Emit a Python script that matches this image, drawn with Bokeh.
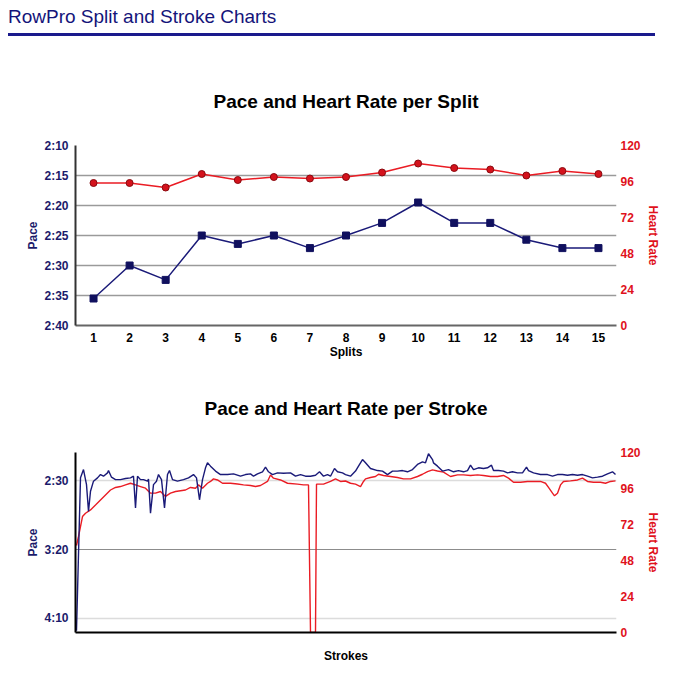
from bokeh.plotting import figure
from bokeh.models import Range1d, LinearAxis, FixedTicker, Div, Grid, Title
from bokeh.layouts import column
from bokeh.embed import file_html
from bokeh.resources import INLINE

# ---------------- data ----------------
split_nums = list(range(1, 16))
split_pace = [155.5, 150.0, 152.4, 145.0, 146.4, 145.0, 147.1, 145.0, 142.9, 139.5,
              142.9, 142.9, 145.7, 147.1, 147.1]          # seconds per 500m
split_hr = [95, 95, 92, 101, 97, 99, 98, 99, 102, 108, 105, 104, 100, 103, 101]

split_pace_ticks = [130, 135, 140, 145, 150, 155, 160]
split_pace_labels = ["2:10", "2:15", "2:20", "2:25", "2:30", "2:35", "2:40"]
hr_ticks = [0, 24, 48, 72, 96, 120]

stroke_pace_x = [1, 5, 8, 11, 13, 15, 18, 22, 25, 28, 32, 33, 36, 40, 45, 50, 55, 58, 60, 62,
                 65, 68, 72, 73, 75, 78, 81, 83, 86, 89, 92, 94, 97, 102, 108, 113, 118, 121,
                 124, 127, 130, 132, 135, 140, 145, 152, 158, 165, 170, 175, 178, 182, 187,
                 190, 193, 197, 202, 208, 215, 220, 225, 230, 235, 240, 244, 248, 252, 255,
                 259, 262, 267, 270, 275, 280, 283, 287, 290, 295, 302, 307, 312, 317, 322,
                 327, 332, 337, 342, 347, 350, 353, 357, 358, 362, 367, 373, 378, 383, 388,
                 392, 395, 398, 403, 408, 412, 416, 418, 423, 428, 432, 437, 442, 447, 451,
                 453, 458, 465, 472, 477, 482, 487, 492, 497, 502, 507, 512, 517, 522, 527,
                 532, 537, 540]
stroke_pace = [259, 148.0, 142.0, 152.9, 172.3, 157.7, 150.4, 148.0, 145.6, 146.8, 144.4, 142.7,
               147.5, 149.3, 149.3, 148.5, 148.0, 146.8, 169.9, 146.8, 149.3, 149.3, 150.4,
               148.8, 173.6, 152.9, 150.4, 145.6, 149.3, 169.9, 145.6, 142.7, 149.3, 150.4,
               149.3, 148.0, 145.6, 148.0, 163.9, 149.3, 140.7, 137.1, 139.5, 143.1, 145.6,
               145.6, 145.1, 146.8, 145.6, 145.1, 146.8, 145.1, 143.6, 140.2, 143.6, 145.6,
               144.4, 144.7, 144.4, 146.8, 145.6, 146.8, 146.8, 146.1, 143.6, 146.8, 145.6,
               146.8, 141.2, 143.6, 144.4, 145.6, 146.8, 143.1, 139.5, 134.7, 137.1, 141.2,
               142.7, 143.1, 145.6, 143.1, 143.1, 142.7, 143.6, 142.0, 138.3, 136.4, 137.1,
               130.5, 134.7, 137.1, 139.5, 143.1, 142.0, 143.6, 142.7, 143.6, 142.7, 138.8,
               142.0, 140.7, 141.2, 140.7, 138.8, 142.7, 142.7, 143.1, 144.4, 143.6, 144.4,
               144.4, 140.2, 142.7, 144.4, 145.6, 145.6, 146.8, 145.6, 145.6, 146.1, 145.6,
               146.1, 145.6, 146.8, 148.0, 147.5, 146.8, 145.1, 143.6, 145.6]

stroke_hr_x = [1, 3, 7, 10, 15, 20, 25, 30, 35, 40, 45, 50, 55, 60, 65, 70, 75, 80, 85, 90,
               95, 100, 105, 110, 115, 120, 123, 127, 132, 135, 138, 142, 147, 155, 162, 168,
               175, 180, 185, 192, 195, 198, 205, 212, 222, 228, 233, 235, 240, 241, 248, 255,
               260, 265, 270, 275, 280, 285, 288, 290, 295, 300, 303, 308, 315, 322, 328, 335,
               342, 347, 352, 357, 362, 368, 375, 382, 388, 395, 402, 408, 415, 422, 428, 433,
               438, 445, 452, 458, 465, 470, 473, 477, 479, 482, 485, 488, 495, 502, 507, 512,
               518, 525, 530, 535, 540]
stroke_hr = [58, 64, 77.3, 79.5, 81.7, 85, 88.4, 91.7, 95, 96.7, 97.3, 98.4, 99.5, 98.4, 97.3,
             96.2, 92.9, 92.9, 94, 90.7, 92.9, 94, 94.5, 95, 96.7, 96.2, 98.4, 96.2, 99.5, 100.7,
             102.4, 101.7, 99.5, 99.5, 99, 98.4, 98, 97.3, 98, 100.7, 105, 102.9, 101.7, 99.5,
             98.9, 98.4, 98.4, 0, 0, 98.9, 98.9, 100.7, 102.4, 100.7, 101, 99.5, 98.9, 97.3,
             100.7, 102.4, 103.3, 104, 105.5, 104.7, 104, 103.3, 102.4, 102.4, 104, 105.5,
             107.3, 108.4, 107.7, 106.9, 104, 105.1, 105.1, 104.7, 105.1, 104.7, 104, 104,
             104.7, 102.9, 100.2, 100.2, 100.7, 100.7, 100.7, 99.5, 96.7, 92.9, 91.1, 92.9,
             98.4, 100.7, 101.1, 101.7, 102.9, 100.7, 100.2, 100.2, 99.5, 100.7, 101.1]

stroke_pace_ticks = [150, 200, 250]
stroke_pace_labels = ["2:30", "3:20", "4:10"]

# ---------------- styles ----------------
FONT = "Liberation Sans"
NAVY_TXT = "#1b1b6b"
RED_TXT = "#e0121c"
BLUE_LINE = "#1a1a78"
RED_LINE = "#ea1c24"


def style_common(p, title_text):
    p.outline_line_color = None
    p.xgrid.grid_line_color = None
    # spacer first (closest to frame), then the real title
    p.add_layout(Title(text=" ", text_font_size="16px"), "above")
    p.add_layout(Title(text=title_text, text_font=FONT, text_font_size="19px",
                       text_font_style="bold", text_color="black", align="center",
                       offset=-5),
                 "above")
    # left axis
    ya = p.yaxis[0]
    ya.axis_label = "Pace"
    ya.axis_label_text_font = FONT
    ya.axis_label_text_font_size = "12px"
    ya.axis_label_text_font_style = "bold"
    ya.axis_label_text_color = NAVY_TXT
    ya.axis_label_standoff = 1
    ya.major_label_text_font = FONT
    ya.major_label_text_font_size = "12px"
    ya.major_label_text_font_style = "bold"
    ya.major_label_text_color = NAVY_TXT
    ya.major_tick_line_color = None
    ya.minor_tick_line_color = None
    ya.major_tick_out = 0
    ya.major_tick_in = 0
    ya.major_label_standoff = 7
    ya.axis_line_width = 2
    # bottom axis
    xa = p.xaxis[0]
    xa.axis_label_text_font = FONT
    xa.axis_label_text_font_size = "12px"
    xa.axis_label_text_font_style = "bold"
    xa.axis_label_text_color = "black"
    xa.major_label_text_font = FONT
    xa.major_label_text_font_size = "12px"
    xa.major_label_text_font_style = "bold"
    xa.major_label_text_color = "black"
    xa.major_tick_line_color = None
    xa.minor_tick_line_color = None
    xa.major_tick_out = 0
    xa.major_tick_in = 0
    xa.axis_line_width = 2
    # right axis
    ra = LinearAxis(y_range_name="hr", ticker=FixedTicker(ticks=hr_ticks),
                    axis_label="Heart Rate")
    ra.axis_line_color = None
    ra.major_tick_line_color = None
    ra.minor_tick_line_color = None
    ra.major_tick_out = 0
    ra.major_tick_in = 0
    ra.major_label_standoff = 4
    ra.major_label_text_font = FONT
    ra.major_label_text_font_size = "12px"
    ra.major_label_text_font_style = "bold"
    ra.major_label_text_color = RED_TXT
    ra.axis_label_text_font = FONT
    ra.axis_label_text_font_size = "12px"
    ra.axis_label_text_font_style = "bold"
    ra.axis_label_text_color = RED_TXT
    ra.axis_label_standoff = 2
    p.add_layout(ra, "right")


# ---------------- header ----------------
header = Div(
    text=('<div style="font-family:\'Liberation Sans\',Arial,sans-serif;font-size:19px;'
          'color:#14147a;width:647px;margin-left:8px;border-bottom:3px solid #1a1a8c;'
          'line-height:22px;padding-top:6px;padding-bottom:5px;">'
          'RowPro Split and Stroke Charts</div>'),
    width=676, height=45, margin=0)

# ---------------- figure 1 ----------------
p1 = figure(width=676, height=330,
            x_range=Range1d(0.5, 15.5), y_range=Range1d(160, 130),
            output_backend="svg", toolbar_location=None,
            min_border_left=75, min_border_right=60, min_border_top=100,
            min_border_bottom=50)
p1.extra_y_ranges = {"hr": Range1d(0, 120)}
style_common(p1, "Pace and Heart Rate per Split")
p1.yaxis[0].ticker = FixedTicker(ticks=split_pace_ticks)
p1.yaxis[0].major_label_overrides = dict(zip(split_pace_ticks, split_pace_labels))
p1.yaxis[0].axis_line_color = "#333333"
p1.xaxis[0].ticker = FixedTicker(ticks=split_nums)
p1.xaxis[0].axis_label = "Splits"
p1.xaxis[0].axis_line_color = "#666666"
p1.xaxis[0].major_label_standoff = 7
p1.xaxis[0].axis_label_standoff = 0
p1.ygrid.ticker = FixedTicker(ticks=split_pace_ticks)
p1.ygrid.grid_line_color = "#9a9a9a"
p1.ygrid.grid_line_width = 1.5

p1.line(split_nums, split_hr, y_range_name="hr", color=RED_LINE, line_width=1.5)
p1.scatter(split_nums, split_hr, y_range_name="hr", marker="circle", size=7,
           fill_color="#d4121c", line_color="#8a0a10", line_width=1)
p1.line(split_nums, split_pace, color=BLUE_LINE, line_width=1.5)
p1.scatter(split_nums, split_pace, marker="square", size=7,
           fill_color="#10105e", line_color="#10105e")

# ---------------- figure 2 ----------------
p2 = figure(width=676, height=290,
            x_range=Range1d(0, 541), y_range=Range1d(260.2, 129.6),
            output_backend="svg", toolbar_location=None,
            min_border_left=75, min_border_right=60, min_border_top=77,
            min_border_bottom=33)
p2.extra_y_ranges = {"hr": Range1d(0, 120)}
style_common(p2, "Pace and Heart Rate per Stroke")
p2.yaxis[0].ticker = FixedTicker(ticks=stroke_pace_ticks)
p2.yaxis[0].major_label_overrides = dict(zip(stroke_pace_ticks, stroke_pace_labels))
p2.yaxis[0].axis_line_color = "black"
p2.xaxis[0].ticker = FixedTicker(ticks=[])
p2.xaxis[0].axis_label = "Strokes"
p2.xaxis[0].axis_line_color = "black"
p2.xaxis[0].axis_label_standoff = 16
p2.ygrid.grid_line_color = None
g_light = Grid(dimension=1, ticker=FixedTicker(ticks=[stroke_pace_ticks[0], stroke_pace_ticks[2]]),
               grid_line_color="#dcdcdc", grid_line_width=1.5)
g_dark = Grid(dimension=1, ticker=FixedTicker(ticks=[stroke_pace_ticks[1]]),
              grid_line_color="#8c8c8c", grid_line_width=1.2)
p2.add_layout(g_light)
p2.add_layout(g_dark)

p2.line(stroke_hr_x, stroke_hr, y_range_name="hr", color=RED_LINE, line_width=1.4)
p2.line(stroke_pace_x, stroke_pace, color=BLUE_LINE, line_width=1.4)

layout = column(header, p1, p2, spacing=0)
open("out.html", "w").write(file_html(layout, INLINE))
